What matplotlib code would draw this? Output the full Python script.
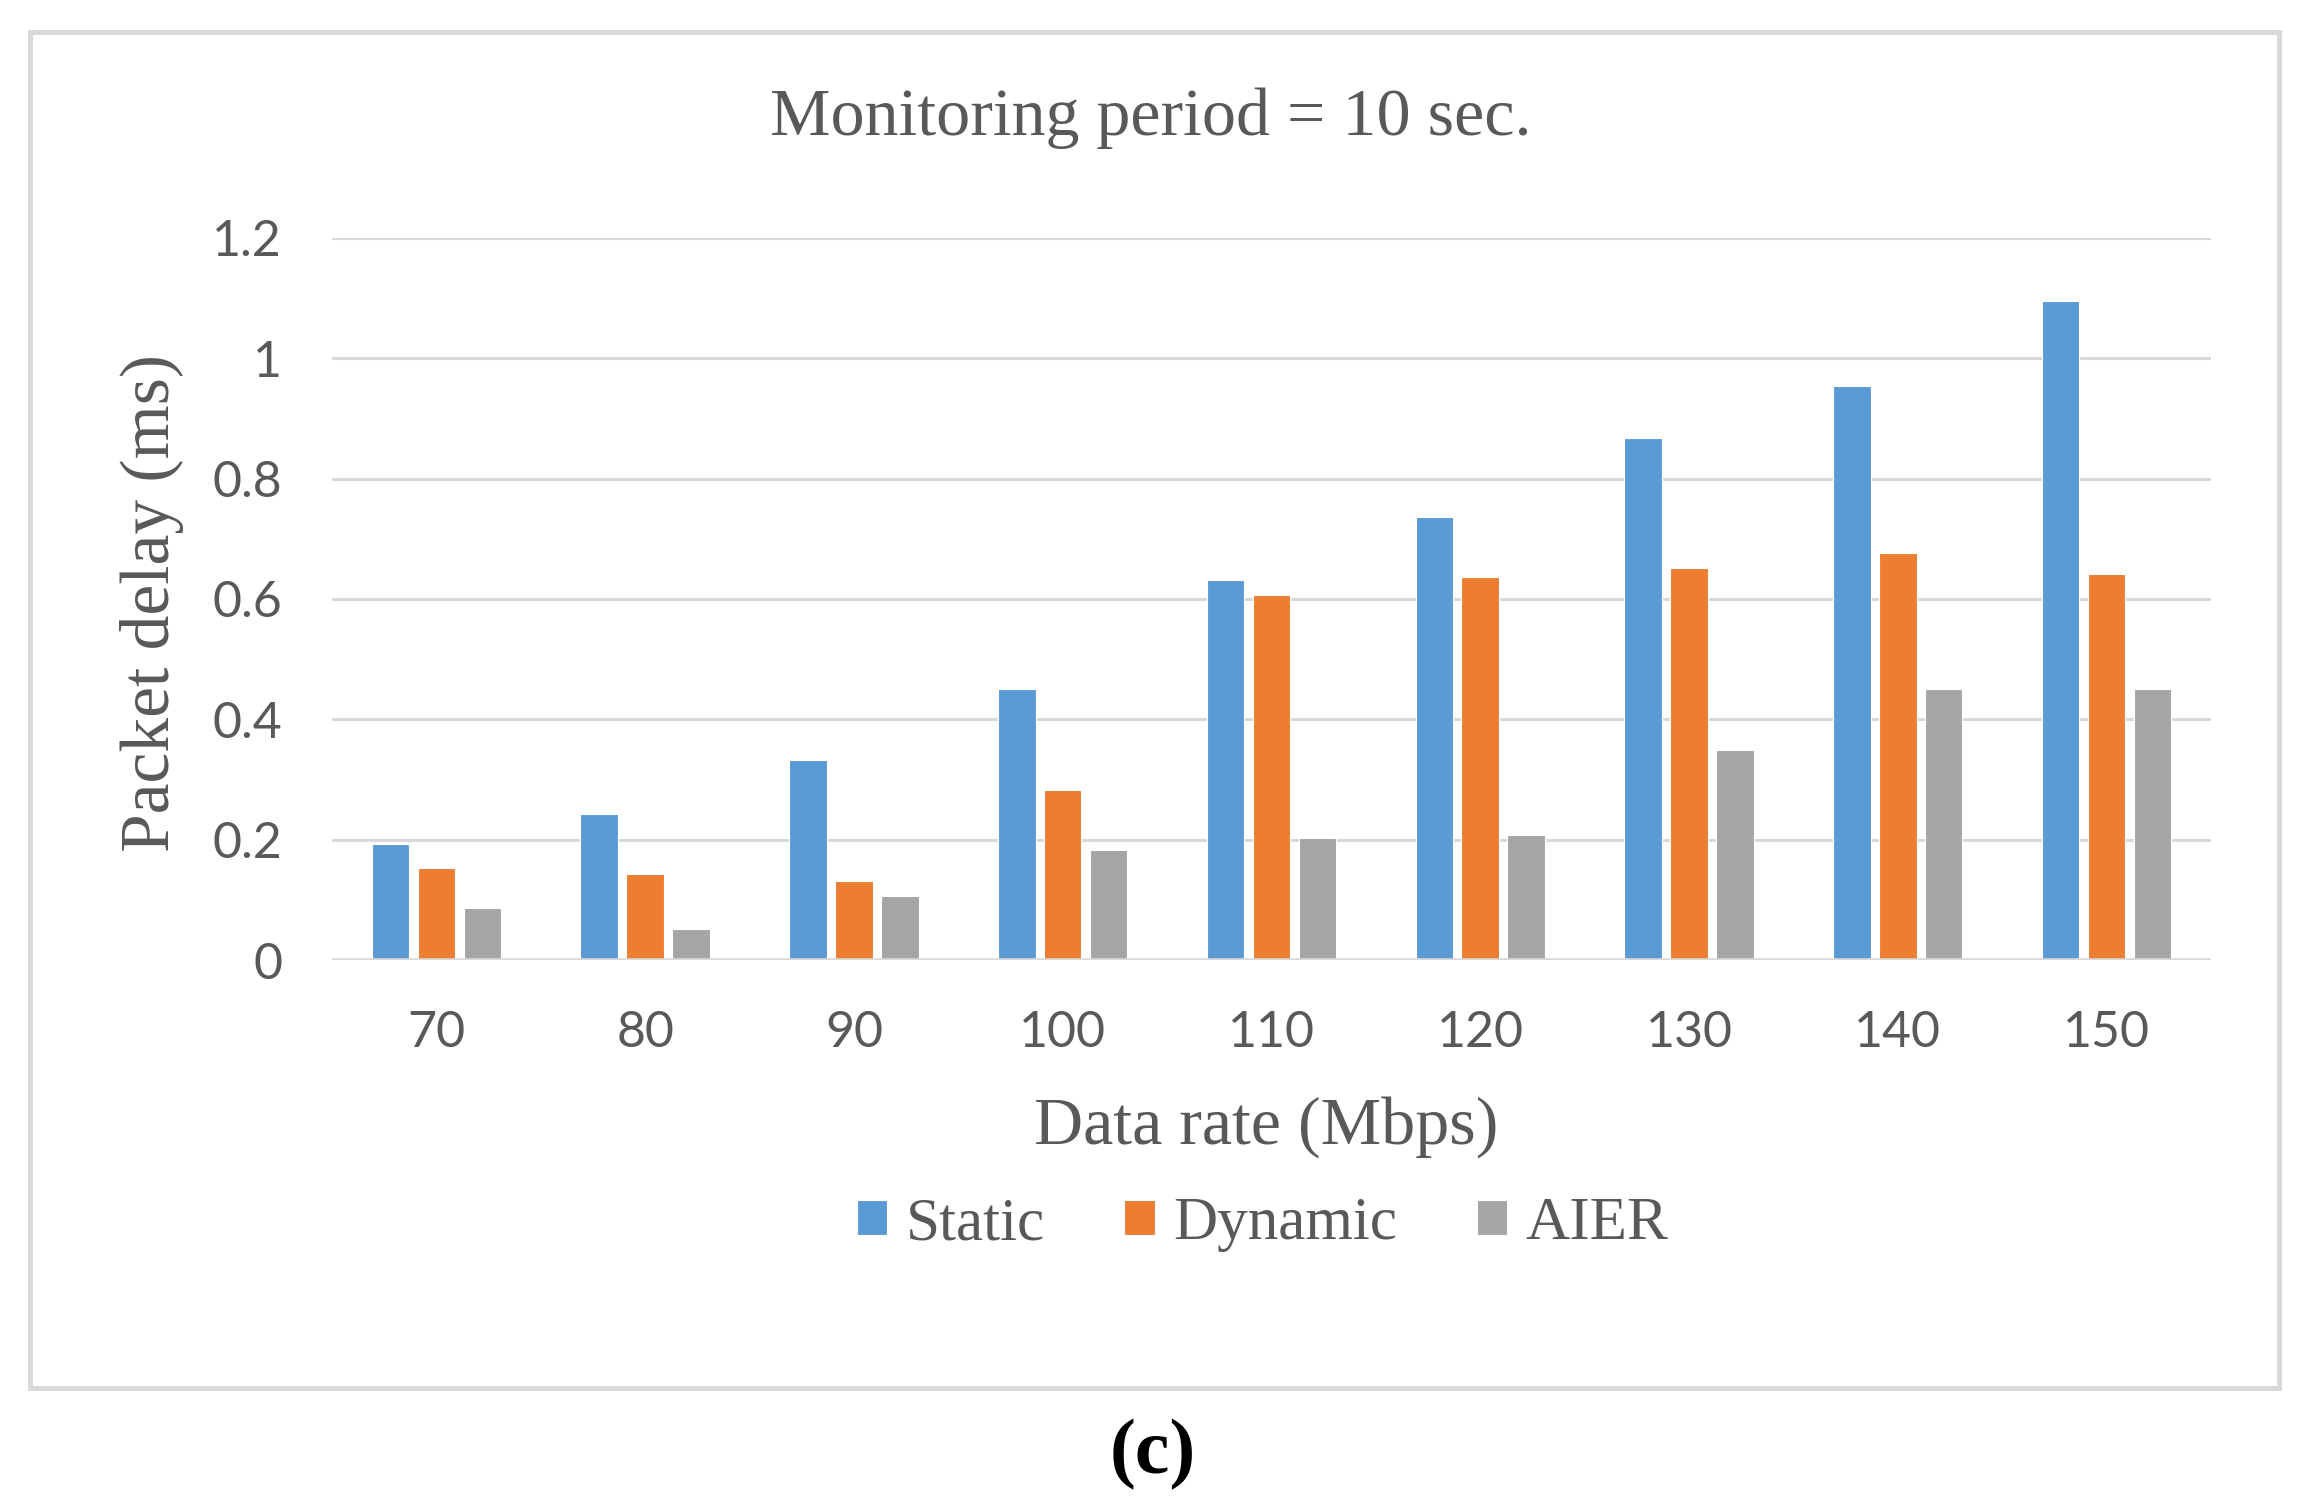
import numpy as np
import matplotlib
matplotlib.use("Agg")
import matplotlib.pyplot as plt
from matplotlib.patches import Rectangle

rates = ["70", "80", "90", "100", "110", "120", "130", "140", "150"]
static = [0.193, 0.243, 0.333, 0.450, 0.631, 0.737, 0.868, 0.954, 1.096]
dynamic = [0.153, 0.143, 0.132, 0.283, 0.606, 0.637, 0.652, 0.677, 0.642]
aier = [0.086, 0.051, 0.107, 0.182, 0.203, 0.207, 0.349, 0.450, 0.450]
series_names = ["Static", "Dynamic", "AIER"]
colors = ["#5B9BD5", "#ED7D31", "#A5A5A5"]

text_color = "#595959"
grid_color = "#D9D9D9"
serif = ["Liberation Serif", "DejaVu Serif"]
sans = ["Lato", "DejaVu Sans"]

fig = plt.figure(figsize=(11.52, 7.52), dpi=200)
ax = fig.add_axes([0.1441, 0.3617, 0.8155, 0.4801])

x = np.arange(len(rates))
w = 0.18
off = 0.22
for i, (vals, name) in enumerate(zip([static, dynamic, aier], series_names)):
    ax.bar(x + (i - 1) * off, vals, width=w, color=colors[i], label=name,
           edgecolor="white", linewidth=0.4, zorder=3)

ax.set_xlim(-0.5, len(rates) - 0.5)
ax.set_ylim(0, 1.2)
ax.set_yticks([0, 0.2, 0.4, 0.6, 0.8, 1.0, 1.2])
ax.set_yticklabels(["0", "0.2", "0.4", "0.6", "0.8", "1", "1.2"])
ax.set_xticks(x)
ax.set_xticklabels(rates)
ax.grid(axis="y", color=grid_color, linewidth=1.1, zorder=0)
for s in ax.spines.values():
    s.set_visible(False)
ax.axhline(0, color=grid_color, linewidth=1.3, zorder=4)
ax.tick_params(length=0, pad=18, labelsize=18, labelcolor=text_color)
for lab in ax.get_xticklabels() + ax.get_yticklabels():
    lab.set_family(sans)

fig.text(0.4996, 0.9215, "Monitoring period = 10 sec.", ha="center", va="center",
         fontsize=24.5, family=serif, color=text_color)
fig.text(0.066, 0.599, "Packet delay (ms)", ha="center", va="center", rotation=90,
         fontsize=25, family=serif, color=text_color)
fig.text(0.5495, 0.2507, "Data rate (Mbps)", ha="center", va="center",
         fontsize=24.5, family=serif, color=text_color)

leg = fig.legend(loc="center", bbox_to_anchor=(0.548, 0.186), ncol=3, frameon=False,
                 prop={"family": serif, "size": 22}, handlelength=0.5, handleheight=0.5,
                 handletextpad=0.3, columnspacing=1.3)
for t in leg.get_texts():
    t.set_color(text_color)

fig.patches.append(Rectangle((0.0130, 0.0771), 0.9761, 0.9016, transform=fig.transFigure,
                             fill=False, edgecolor=grid_color, linewidth=1.8))

fig.text(0.5005, 0.0326, "(c)", ha="center", va="center", fontsize=28,
         family=serif, fontweight="bold", color="black")

fig.savefig("out.png", dpi=200, facecolor="white")
